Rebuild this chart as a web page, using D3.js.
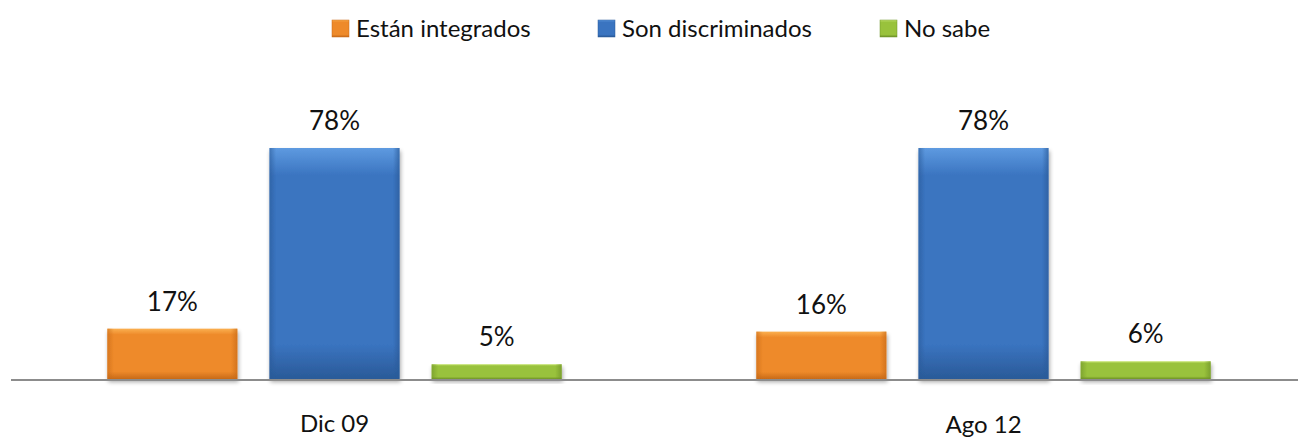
<!DOCTYPE html>
<html><head><meta charset="utf-8">
<script src="https://cdn.jsdelivr.net/npm/d3@7"></script>
<style>body{margin:0;background:#fff;}svg{display:block;}text{font-family:Lato,"Open Sans",sans-serif;font-weight:400;fill:#111;}</style>
</head><body>
<svg id="c" width="1298" height="438"></svg>
<script>
const categories = ["Dic 09", "Ago 12"];
const seriesNames = ["Están integrados", "Son discriminados", "No sabe"];
const integrados = [17, 16];
const discriminados = [78, 78];
const noSabe = [5, 6];
const seriesValues = [integrados, discriminados, noSabe];
const colors = [
  {main:"#ee8a2a", light:"#fbb050", dark:"#c86a18"},
  {main:"#3a74c0", light:"#5e9ae0", dark:"#2a5a98"},
  {main:"#99c23c", light:"#c8e674", dark:"#6e9228"}
];

const svg = d3.select("#c");
const defs = svg.append("defs");
colors.forEach((c,i)=>{
  const g = defs.append("linearGradient").attr("id","g"+i).attr("x1",0).attr("y1",0).attr("x2",0).attr("y2",1);
  g.append("stop").attr("offset","0").attr("stop-color",c.light);
  g.append("stop").attr("offset","0.12").attr("stop-color",c.main);
  g.append("stop").attr("offset","0.85").attr("stop-color",c.main);
  g.append("stop").attr("offset","1").attr("stop-color",c.dark);
  const h = defs.append("linearGradient").attr("id","h"+i).attr("x1",0).attr("y1",0).attr("x2",1).attr("y2",0);
  h.append("stop").attr("offset","0").attr("stop-color",c.dark).attr("stop-opacity",0.6);
  h.append("stop").attr("offset","0.05").attr("stop-color",c.dark).attr("stop-opacity",0);
  h.append("stop").attr("offset","0.95").attr("stop-color",c.dark).attr("stop-opacity",0);
  h.append("stop").attr("offset","1").attr("stop-color",c.dark).attr("stop-opacity",0.7);
});
const f = defs.append("filter").attr("id","sh").attr("x","-10%").attr("y","-10%").attr("width","130%").attr("height","140%");
f.append("feGaussianBlur").attr("in","SourceAlpha").attr("stdDeviation",2);
f.append("feOffset").attr("dx",1).attr("dy",3).attr("result","ob");
f.append("feComponentTransfer").append("feFuncA").attr("type","linear").attr("slope",0.35);
const m = f.append("feMerge"); m.append("feMergeNode"); m.append("feMergeNode").attr("in","SourceGraphic");

const baseY = 379;
const x0 = d3.scaleBand().domain(categories).range([10, 1308]).paddingInner(0).paddingOuter(0);
const x1 = d3.scaleBand().domain(d3.range(3)).range([-227, 227]).paddingInner(0.2);
const y = d3.scaleLinear().domain([0, 78]).range([baseY, 148]);

const data = [];
categories.forEach((cat,ci)=>seriesValues.forEach((vals,si)=>data.push({cat, si, v: vals[ci]})));

const gBars = svg.append("g");
const bw = 130;
data.forEach(d=>{
  const cx = x0(d.cat) + x0.bandwidth()/2 + (x1(d.si) + x1.bandwidth()/2);
  const xl = cx - bw/2;
  const top = y(d.v), h = baseY - top;
  const g = gBars.append("g").attr("filter","url(#sh)");
  g.append("rect").attr("x",xl).attr("y",top).attr("width",bw).attr("height",h).attr("fill","url(#g"+d.si+")");
  g.append("rect").attr("x",xl).attr("y",top).attr("width",bw).attr("height",h).attr("fill","url(#h"+d.si+")");
  svg.append("text").attr("x",cx).attr("y",top-18).attr("text-anchor","middle").attr("font-size",26).text(d.v+"%");
});

svg.append("line").attr("x1",11).attr("x2",1298).attr("y1",baseY+1).attr("y2",baseY+1).attr("stroke","#8c8c8c").attr("stroke-width",2);

categories.forEach((c,i)=>{
  svg.append("text").attr("x",x0(c)+x0.bandwidth()/2).attr("y",432+(i?1:0)).attr("text-anchor","middle").attr("font-size",24).text(c);
});

const legX = [332, 598, 880];
seriesNames.forEach((n,i)=>{
  svg.append("rect").attr("x",legX[i]).attr("y",20).attr("width",17).attr("height",17).attr("fill","url(#g"+i+")").attr("stroke",colors[i].dark).attr("stroke-width",0.5);
  svg.append("text").attr("x",legX[i]+24).attr("y",37).attr("font-size",24).text(n);
});
</script>
</body></html>
